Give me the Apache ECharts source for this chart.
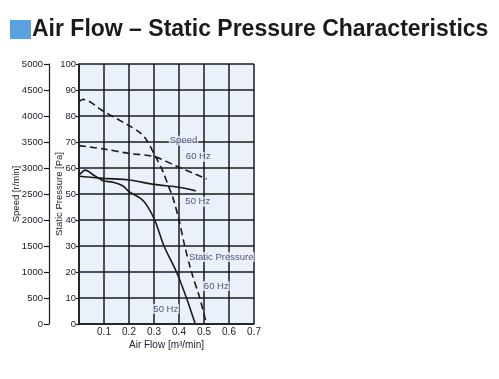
<!DOCTYPE html>
<html><head><meta charset="utf-8">
<script src="https://cdn.jsdelivr.net/npm/echarts@6/dist/echarts.min.js"></script>
<style>html,body{margin:0;padding:0;background:#fff}#c{width:499px;height:379px}</style>
</head><body><div id="c"></div>
<script>
// ---- data ----
const titleText = 'Air Flow – Static Pressure Characteristics';
const xAxisName = 'Air Flow [m³/min]';
const pressureAxisName = 'Static Pressure [Pa]';
const speedAxisName = 'Speed [r/min]';

// Static pressure, 60 Hz (dashed)
const sp60Flow = [0, 0.016, 0.1, 0.2, 0.245, 0.27, 0.3, 0.336, 0.356, 0.376, 0.4, 0.423, 0.45, 0.483, 0.51];
const sp60Pa   = [85.5, 86.4, 81.7, 76.3, 73.5, 70.8, 65.5, 58.6, 53.5, 48.5, 40, 30, 20, 10, 0];
// Static pressure, 50 Hz (solid)
const sp50Flow = [0, 0.026, 0.056, 0.083, 0.1, 0.136, 0.176, 0.2, 0.245, 0.27, 0.303, 0.34, 0.39, 0.43, 0.465];
const sp50Pa   = [57.3, 59.2, 57.4, 55.8, 55.0, 54.5, 53.1, 50.9, 48.4, 45.8, 40, 30, 20, 10, 0];
// Speed, 60 Hz (dashed)
const spd60Flow = [0, 0.1, 0.2, 0.3, 0.4, 0.51];
const spd60Rpm  = [3430, 3365, 3280, 3220, 3015, 2790];
// Speed, 50 Hz (solid)
const spd50Flow = [0, 0.1, 0.2, 0.3, 0.4, 0.467];
const spd50Rpm  = [2840, 2800, 2770, 2685, 2630, 2560];

// annotation labels (flow, pressure)
const noteText = ['Speed', '60 Hz', '50 Hz', 'Static Pressure', '60 Hz', '50 Hz'];
const noteFlow = [0.418, 0.477, 0.475, 0.569, 0.549, 0.347];
const notePa   = [70.5, 64.3, 47, 25.8, 14.6, 5.8];

const pair = (xs, ys) => xs.map((x, i) => [x, ys[i]]);

const FONT = '"Liberation Sans", Arial, sans-serif';
const plotBg = '#eaf1fb';
const ink = '#1a1a1a';
const textCol = '#222233';
const noteCol = '#2a2a55';

const chart = echarts.init(document.getElementById('c'), null, {renderer: 'canvas'});
chart.setOption({
  animation: false,
  backgroundColor: '#fff',
  title: {
    text: titleText, left: 32, top: 18, padding: 0,
    textStyle: {fontFamily: FONT, fontWeight: 'bold', fontSize: 23, color: '#1a1a1a'}
  },
  graphic: [{type: 'rect', shape: {x: 10, y: 20, width: 21, height: 19}, style: {fill: '#5ba3e0'}}],
  grid: {left: 79, right: 245, top: 64, bottom: 55, show: true, backgroundColor: plotBg, borderWidth: 0},
  xAxis: {
    type: 'value', min: 0, max: 0.7, interval: 0.1,
    name: xAxisName, nameLocation: 'middle', nameGap: 16, nameMoveOverlap: false,
    nameTextStyle: {fontFamily: FONT, fontSize: 10, color: textCol},
    axisLine: {show: true, lineStyle: {color: ink, width: 1.5}},
    axisTick: {show: false},
    axisLabel: {margin: 3, fontFamily: FONT, fontSize: 10, color: textCol,
      formatter: v => v === 0 ? '' : v.toFixed(1)},
    splitLine: {show: true, lineStyle: {color: ink, width: 1.5}}
  },
  yAxis: [{
    type: 'value', min: 0, max: 100, interval: 10, position: 'left',
    name: pressureAxisName, nameLocation: 'middle', nameGap: 15, nameRotate: 90, nameMoveOverlap: false,
    nameTextStyle: {fontFamily: FONT, fontSize: 9.5, color: textCol},
    axisLine: {show: true, lineStyle: {color: ink, width: 1.5}},
    axisTick: {show: true, length: 3, lineStyle: {color: ink, width: 1.2}},
    axisLabel: {margin: 3, fontFamily: FONT, fontSize: 9.5, color: textCol},
    splitLine: {show: true, lineStyle: {color: ink, width: 1.5}}
  }, {
    type: 'value', min: 0, max: 5000, interval: 500, position: 'left', offset: 30,
    name: speedAxisName, nameLocation: 'middle', nameGap: 28, nameRotate: 90, nameMoveOverlap: false,
    nameTextStyle: {fontFamily: FONT, fontSize: 9.5, color: textCol},
    axisLine: {show: true, lineStyle: {color: ink, width: 1.2}},
    axisTick: {show: true, length: 5, lineStyle: {color: ink, width: 1.2}},
    axisLabel: {margin: 6, fontFamily: FONT, fontSize: 9.5, color: textCol, formatter: v => String(v)},
    splitLine: {show: false}
  }],
  series: [
    {type: 'line', data: pair(sp60Flow, sp60Pa), yAxisIndex: 0, symbol: 'none', smooth: 0.3,
      lineStyle: {color: ink, width: 1.6, type: [7, 4]}},
    {type: 'line', data: pair(sp50Flow, sp50Pa), yAxisIndex: 0, symbol: 'none', smooth: 0.3,
      lineStyle: {color: ink, width: 1.6}},
    {type: 'line', data: pair(spd60Flow, spd60Rpm), yAxisIndex: 1, symbol: 'none', smooth: 0.3,
      lineStyle: {color: ink, width: 1.6, type: [7, 4]}},
    {type: 'line', data: pair(spd50Flow, spd50Rpm), yAxisIndex: 1, symbol: 'none', smooth: 0.3,
      lineStyle: {color: ink, width: 1.6}},
    {type: 'scatter', yAxisIndex: 0, symbolSize: 0, silent: true, z: 5,
      data: noteText.map((t, i) => ({name: t, value: [noteFlow[i], notePa[i]]})),
      label: {show: true, position: 'inside', formatter: p => p.name,
        fontFamily: FONT, fontSize: 9.5, color: noteCol, backgroundColor: plotBg, padding: [0, 1]}}
  ]
});
</script></body></html>
